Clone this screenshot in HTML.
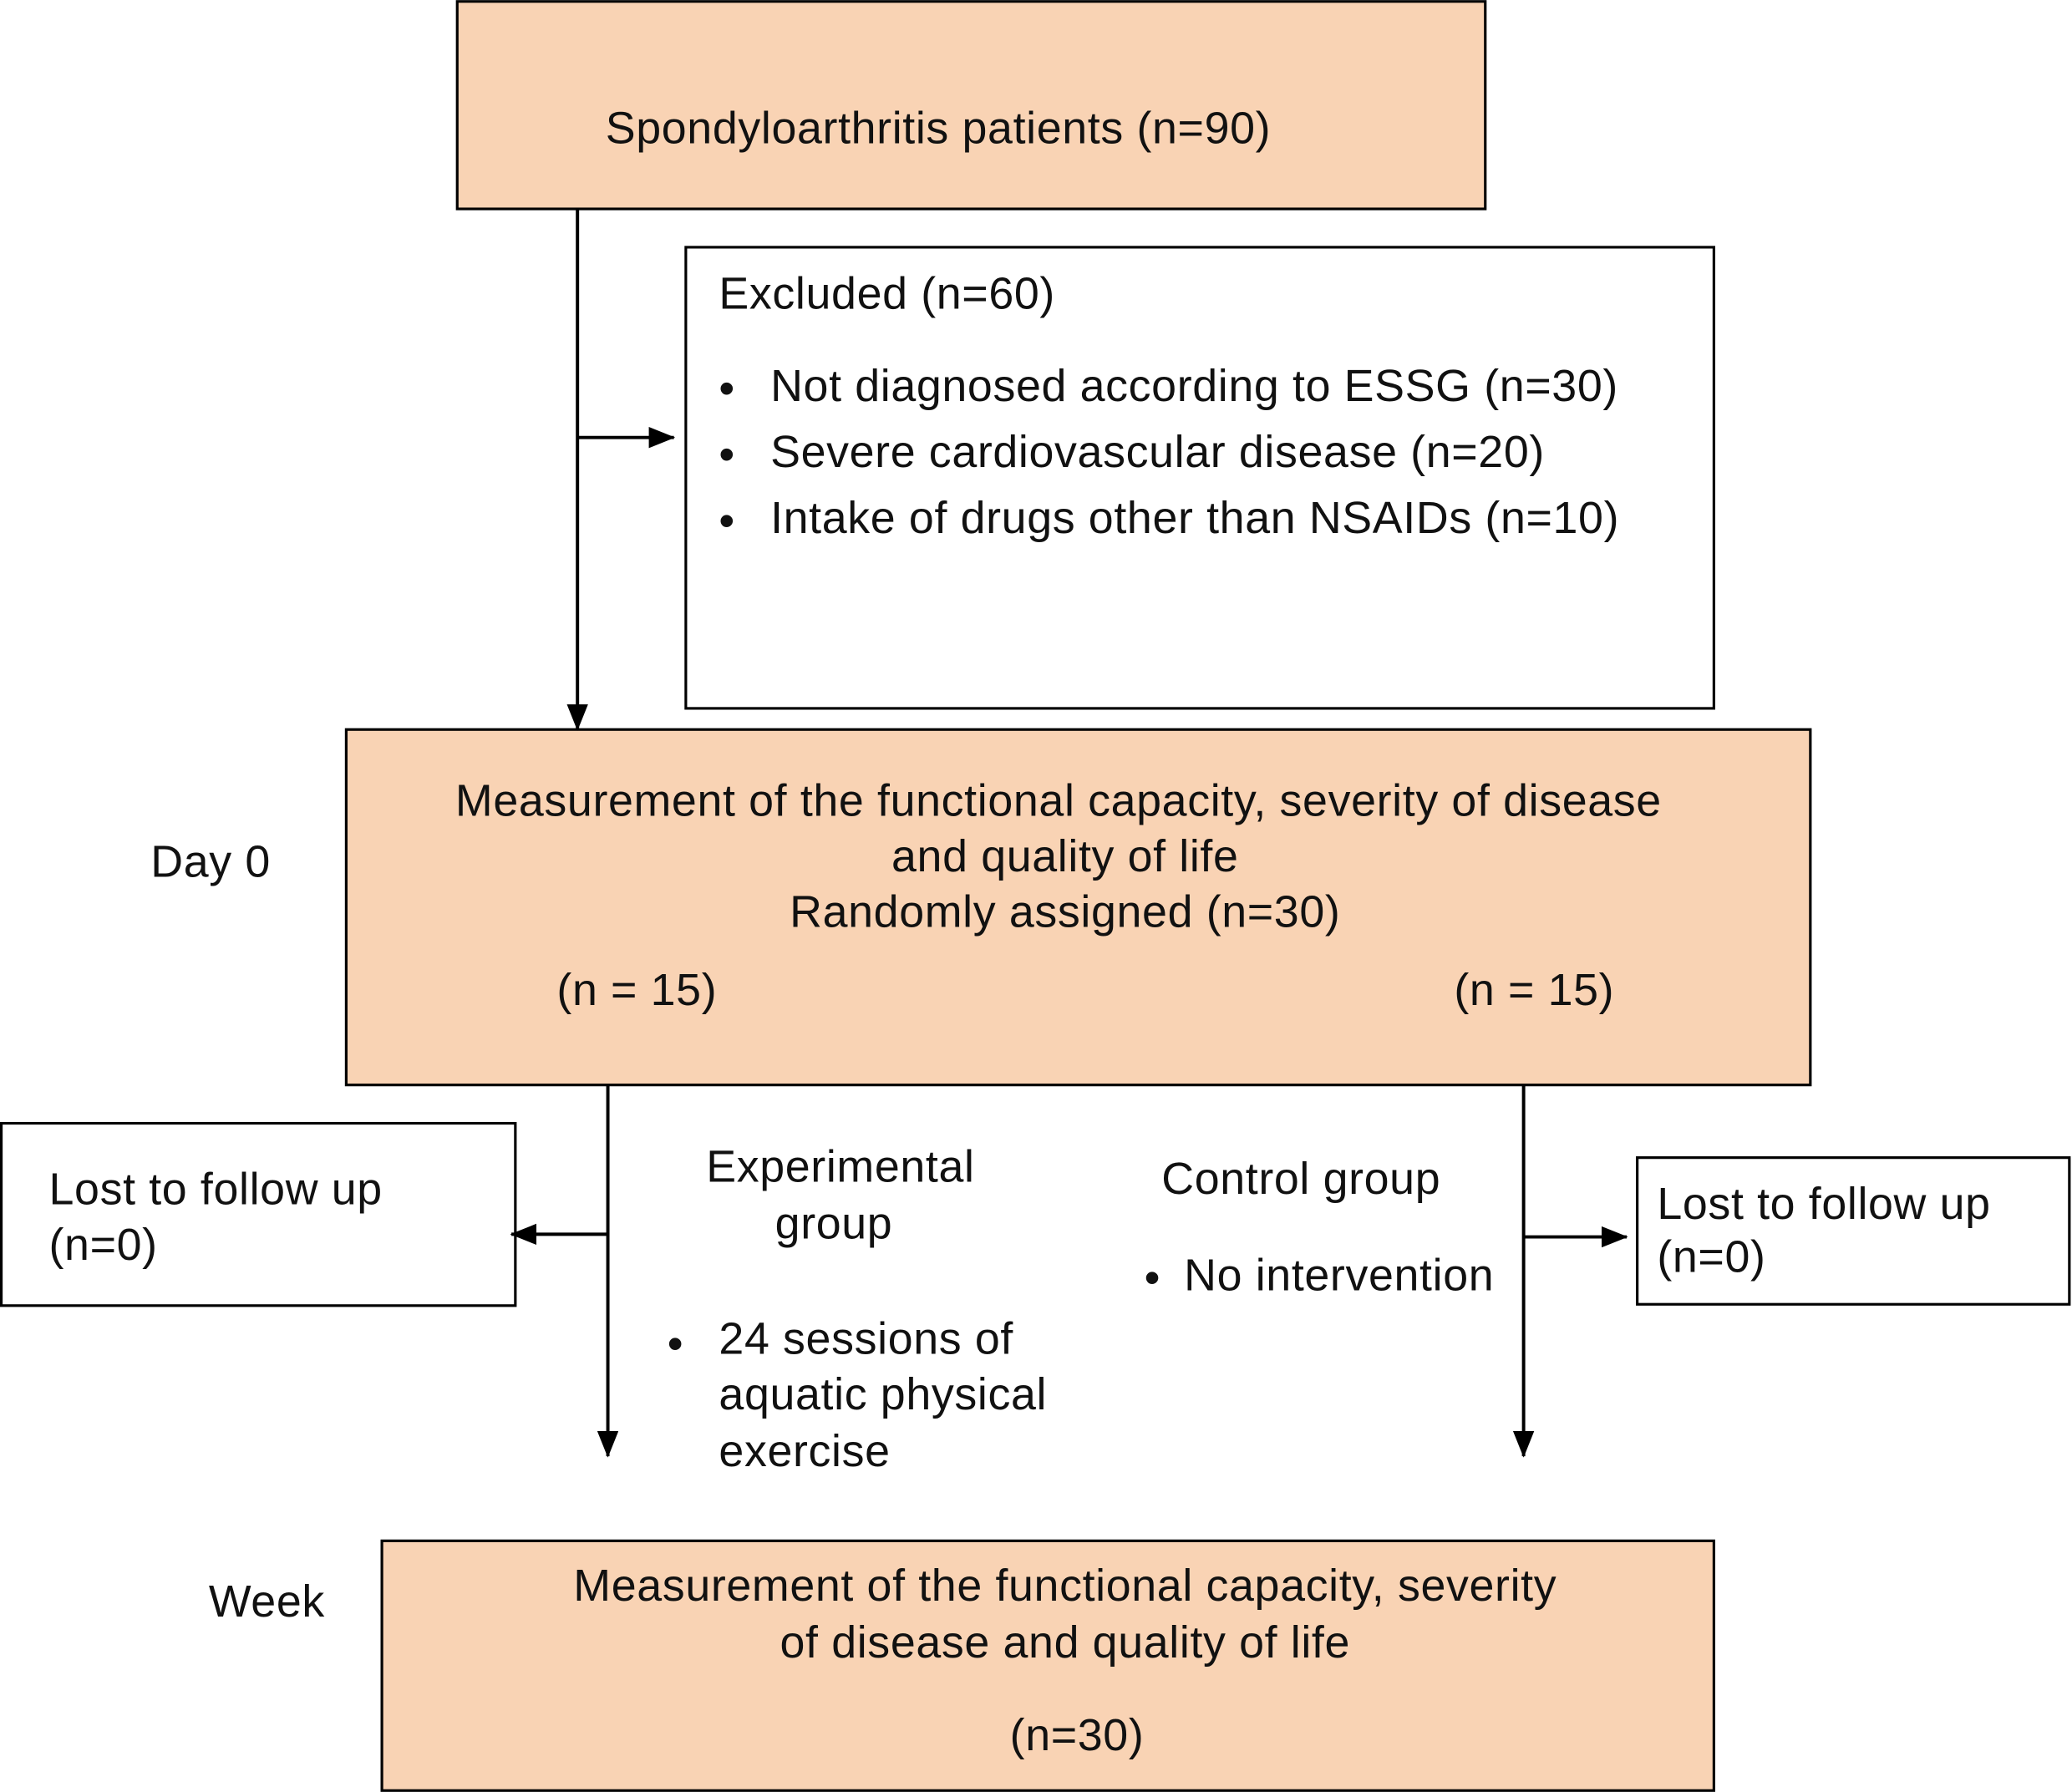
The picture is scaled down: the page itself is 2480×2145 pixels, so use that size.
<!DOCTYPE html>
<html><head><style>html,body{margin:0;padding:0;background:#fff}svg{display:block}text{font-family:"Liberation Sans",sans-serif;font-size:34px;letter-spacing:0.4px;fill:#111;dominant-baseline:central}</style></head>
<body>
<svg width="2480" height="2145" viewBox="0 0 1568 1356" xmlns="http://www.w3.org/2000/svg">
<defs><marker id="a" markerWidth="20" markerHeight="16" refX="19" refY="8" orient="auto" markerUnits="userSpaceOnUse" viewBox="0 0 20 16"><path d="M0,0 L20,8 L0,16z" fill="#000"/></marker></defs>
<g stroke="#000" stroke-width="2">
<rect x="346" y="1" width="778" height="157" fill="#F9D3B4"/>
<rect x="519" y="187" width="778" height="349" fill="#fff"/>
<rect x="262" y="552" width="1108" height="269" fill="#F9D3B4"/>
<rect x="1" y="850" width="389" height="138" fill="#fff"/>
<rect x="1239" y="876" width="327" height="111" fill="#fff"/>
<rect x="289" y="1166" width="1008" height="189" fill="#F9D3B4"/>
<g fill="none" stroke-width="2.5">
<line x1="437" y1="158" x2="437" y2="552" marker-end="url(#a)"/>
<line x1="437" y1="331" x2="510" y2="331" marker-end="url(#a)"/>
<line x1="460" y1="821" x2="460" y2="1102" marker-end="url(#a)"/>
<line x1="460" y1="934" x2="387" y2="934" marker-end="url(#a)"/>
<line x1="1153" y1="821" x2="1153" y2="1102" marker-end="url(#a)"/>
<line x1="1153" y1="936" x2="1231" y2="936" marker-end="url(#a)"/>
</g></g>
<text x="710" y="97" text-anchor="middle">Spondyloarthritis patients (n=90)</text>
<text x="544" y="222">Excluded (n=60)</text>
<text x="544" y="294">•</text><text x="583" y="292">Not diagnosed according to ESSG (n=30)</text>
<text x="544" y="344">•</text><text x="583" y="342">Severe cardiovascular disease (n=20)</text>
<text x="544" y="394">•</text><text x="583" y="392">Intake of drugs other than NSAIDs (n=10)</text>
<text x="801" y="606" text-anchor="middle">Measurement of the functional capacity, severity of disease</text>
<text x="806" y="648" text-anchor="middle">and quality of life</text>
<text x="806" y="690" text-anchor="middle">Randomly assigned (n=30)</text>
<text x="482" y="749" text-anchor="middle">(n = 15)</text>
<text x="1161" y="749" text-anchor="middle">(n = 15)</text>
<text x="114" y="652">Day 0</text>
<text x="37" y="900">Lost to follow up</text><text x="37" y="942">(n=0)</text>
<text x="1254" y="911">Lost to follow up</text><text x="1254" y="951">(n=0)</text>
<text x="636" y="883" text-anchor="middle">Experimental</text>
<text x="631" y="926" text-anchor="middle">group</text>
<text x="505" y="1017">•</text>
<text x="544" y="1013">24 sessions of</text>
<text x="544" y="1055">aquatic physical</text>
<text x="544" y="1098">exercise</text>
<text x="879" y="892">Control group</text>
<text x="866" y="967">•</text><text x="896" y="965">No intervention</text>
<text x="806" y="1200" text-anchor="middle">Measurement of the functional capacity, severity</text>
<text x="806" y="1243" text-anchor="middle">of disease and quality of life</text>
<text x="815" y="1313" text-anchor="middle">(n=30)</text>
<text x="158" y="1212">Week</text>
</svg>
</body></html>
